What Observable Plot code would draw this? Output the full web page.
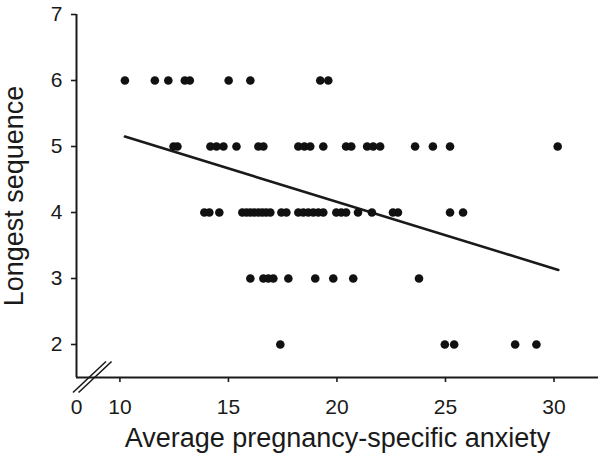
<!DOCTYPE html>
<html>
<head>
<meta charset="utf-8">
<script src="https://cdn.jsdelivr.net/npm/d3@7"></script>
<script src="https://cdn.jsdelivr.net/npm/@observablehq/plot@0.6"></script>
<style>
  html, body { margin: 0; padding: 0; background: #fff; }
  #chart svg { display: block; }
</style>
</head>
<body>
<div id="chart"></div>
<script>
// Longest sequence vs. average pregnancy-specific anxiety
const seq6 = [10.23, 11.61, 12.23, 12.99, 13.22, 15.01, 16.01, 19.23, 19.60];
const seq5 = [12.47, 12.65, 14.17, 14.45, 14.77, 15.37, 16.38, 16.61, 18.22, 18.50, 18.77,
              19.37, 20.42, 20.66, 21.39, 21.67, 21.99, 23.60, 24.42, 25.21, 30.17];
const seq4 = [13.89, 14.12, 14.58, 15.64, 15.83, 16.01, 16.19, 16.38, 16.56, 16.74, 16.93,
              17.44, 17.67, 18.22, 18.45, 18.68, 18.91, 19.14, 19.37, 19.97, 20.20, 20.42,
              20.97, 21.61, 22.58, 22.81, 25.21, 25.81];
const seq3 = [16.01, 16.61, 16.84, 17.07, 17.76, 19.00, 19.83, 20.75, 23.78];
const seq2 = [17.39, 24.97, 25.40, 28.21, 29.19];

// fitted regression line, ends
const fitAnxiety = [10.23, 30.2];
const fitSequence = [5.15, 3.13];

const xTicks = [10, 15, 20, 25, 30];
const yTicks = [2, 3, 4, 5, 6, 7];
const xDomain = [8, 32.05];   // left end stands for 0 (broken axis)
const yDomain = [1.5, 7];
const breakLabel = "0";
const breakAt = 8.75;

const xLabel = "Average pregnancy-specific anxiety";
const yLabel = "Longest sequence";

const points = [[6, seq6], [5, seq5], [4, seq4], [3, seq3], [2, seq2]]
  .flatMap(([s, xs]) => xs.map((a) => ({ anxiety: a, sequence: s })));
const fit = fitAnxiety.map((a, i) => ({ anxiety: a, sequence: fitSequence[i] }));

const ink = "#1a1a1a";

// the "//" axis break, drawn in pixels around its spot on the x axis
function axisBreak(index, scales) {
  const cx = scales.x(breakAt), cy = scales.y(yDomain[0]);
  const g = d3.create("svg:g").attr("stroke", ink).attr("stroke-width", 1.6);
  for (const off of [-2.8, 2.8]) {
    g.append("line")
      .attr("x1", cx + off - 16.5).attr("y1", cy + 15.5)
      .attr("x2", cx + off + 16.5).attr("y2", cy - 15.5);
  }
  return g.node();
}

const chart = Plot.plot({
  width: 602,
  height: 464,
  marginLeft: 76,
  marginRight: 4,
  marginTop: 14,
  marginBottom: 87,
  style: {
    background: "#fff",
    color: ink,
    fontFamily: "'Liberation Sans', Arial, sans-serif",
  },
  x: { domain: xDomain },
  y: { domain: yDomain },
  marks: [
    Plot.ruleX([xDomain[0]], { stroke: ink, strokeWidth: 2 }),
    Plot.ruleY([yDomain[0]], { stroke: ink, strokeWidth: 2 }),
    Plot.axisY({ ticks: yTicks, tickFormat: "d", tickSize: 5, tickPadding: 9,
                 fontSize: 21, strokeWidth: 1.6, label: null }),
    Plot.axisX({ ticks: xTicks, tickFormat: "d", tickSize: 5, tickPadding: 17,
                 fontSize: 21, strokeWidth: 1.6, label: null }),
    Plot.text([breakLabel], { x: xDomain[0], y: yDomain[0], text: (d) => d,
                              dy: 22, lineAnchor: "top", fontSize: 21, fill: ink }),
    axisBreak,
    Plot.line(fit, { x: "anxiety", y: "sequence", stroke: ink, strokeWidth: 2.6 }),
    Plot.dot(points, { x: "anxiety", y: "sequence", r: 4.3, fill: "#111" }),
    Plot.text([xLabel], { frameAnchor: "bottom", dy: 69, text: (d) => d,
                          fontSize: 27, fill: ink }),
    Plot.text([yLabel], { frameAnchor: "left", dx: -62, rotate: -90, text: (d) => d,
                          textAnchor: "middle", fontSize: 27, fill: ink }),
  ],
});

document.getElementById("chart").appendChild(chart);
</script>
</body>
</html>
